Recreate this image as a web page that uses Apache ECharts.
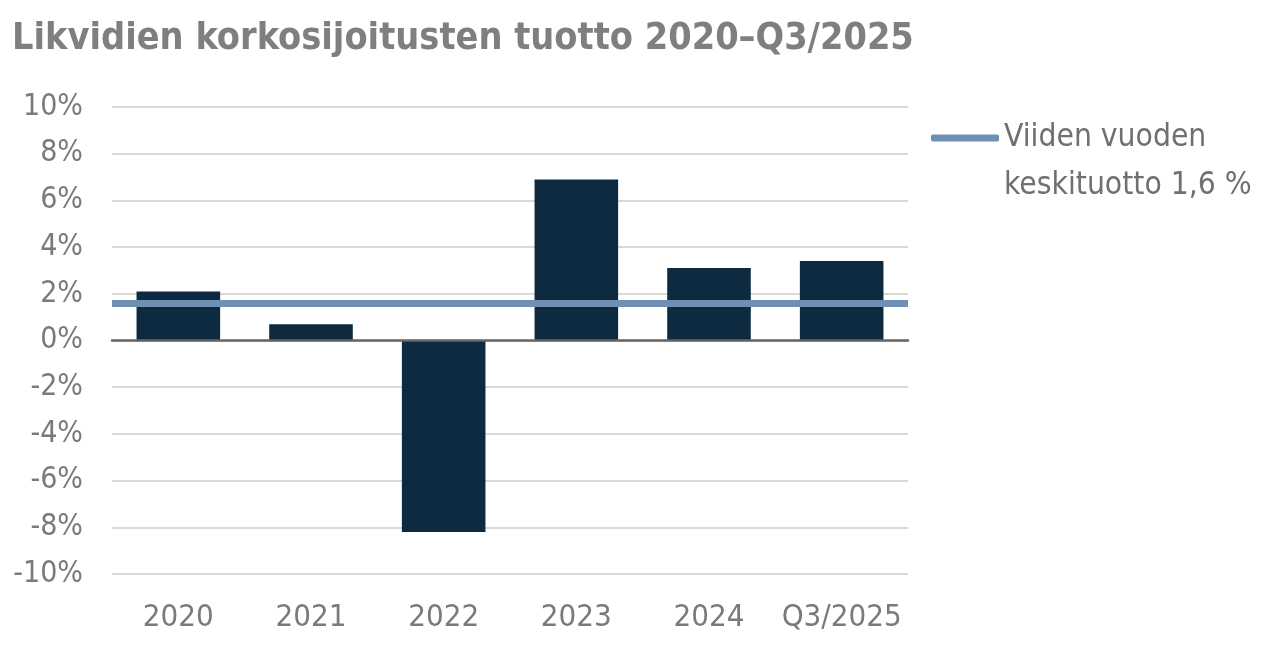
<!DOCTYPE html>
<html>
<head>
<meta charset="utf-8">
<script src="https://cdn.jsdelivr.net/npm/echarts@6/dist/echarts.min.js"></script>
<style>
html,body{margin:0;padding:0;background:#fff;}
#chart{width:1288px;height:672px;}
</style>
</head>
<body>
<div id="chart"></div>
<script>
var categories = ['2020', '2021', '2022', '2023', '2024', 'Q3/2025'];
var returns = [2.1, 0.7, -8.2, 6.9, 3.1, 3.4];
var average = [1.6];
var yTicks = { min: -10, max: 10, interval: 2 };
var titleText = 'Likvidien korkosijoitusten tuotto 2020\u2013Q3/2025';
var avgName = 'Viiden vuoden keskituotto 1,6 %';
var avgLines = ['Viiden vuoden', 'keskituotto 1,6 %'];

var FONT = '"DejaVu Sans Condensed", "DejaVu Sans", sans-serif';
var chart = echarts.init(document.getElementById('chart'));
chart.setOption({
  animation: false,
  backgroundColor: '#ffffff',
  title: {
    text: titleText,
    left: 7, top: 15,
    textStyle: { fontFamily: FONT, fontSize: 37.5, fontWeight: 'bold', color: '#7f7f7f' }
  },
  legend: {
    data: [avgName],
    left: 926, top: 61,
    orient: 'vertical',
    icon: 'roundRect',
    itemWidth: 68, itemHeight: 7,
    itemGap: 0,
    formatter: function () { return ' \n' + avgLines.join('\n'); },
    textStyle: { fontFamily: FONT, fontSize: 31.5, color: '#707070', lineHeight: 48 }
  },
  grid: { left: 112, right: 380, top: 107, bottom: 98 },
  xAxis: [
    {
      type: 'category', data: categories,
      axisLine: { show: true, onZero: true, lineStyle: { color: '#666666', width: 2.5 } },
      axisTick: { show: false }, axisLabel: { show: false },
      z: 5
    },
    {
      type: 'category', data: categories, position: 'bottom',
      axisLine: { show: false, onZero: false }, axisTick: { show: false },
      axisLabel: { interval: 0, fontFamily: FONT, fontSize: 31, color: '#7a7a7a', margin: 28 }
    }
  ],
  yAxis: {
    type: 'value', min: yTicks.min, max: yTicks.max, interval: yTicks.interval,
    axisLine: { show: false }, axisTick: { show: false },
    axisLabel: { formatter: '{value}%', fontFamily: FONT, fontSize: 30, color: '#7a7a7a', margin: 29 },
    splitLine: { lineStyle: { color: '#d9d9d9', width: 2 } }
  },
  series: [
    {
      type: 'bar', name: 'Tuotto', data: returns, xAxisIndex: 0,
      barCategoryGap: '37%',
      itemStyle: { color: '#0d2a40' }
    },
    {
      type: 'line', name: avgName, data: [],
      itemStyle: { color: '#6f8fb4' },
      lineStyle: { color: '#6f8fb4', width: 7 },
      markLine: {
        silent: true, symbol: 'none',
        label: { show: false },
        lineStyle: { color: '#6f8fb4', width: 7, type: 'solid' },
        data: [{ yAxis: average[0] }]
      },
      z: 10
    }
  ]
});
</script>
</body>
</html>
